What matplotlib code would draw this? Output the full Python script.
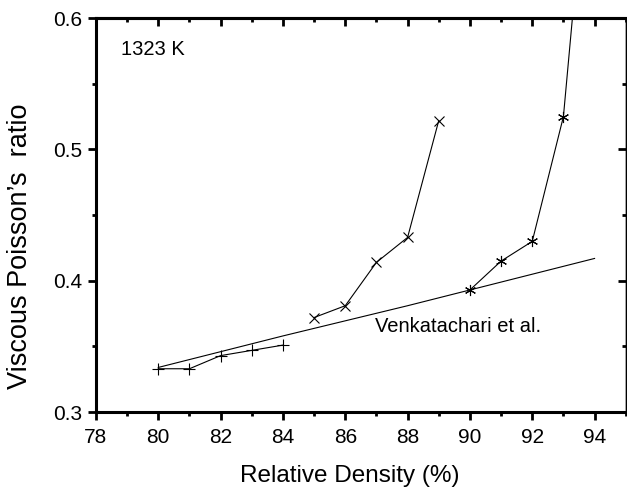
import numpy as np
import matplotlib.pyplot as plt
from matplotlib.ticker import MultipleLocator

plt.rcParams['font.family'] = ['Liberation Sans', 'DejaVu Sans']

# data
plus_x = [80, 81, 82, 83, 84]
plus_y = [0.333, 0.333, 0.343, 0.347, 0.351]

cross_x = [85, 86, 87, 88, 89]
cross_y = [0.372, 0.381, 0.414, 0.433, 0.522]

star_x = [90, 91, 92, 93, 94]
star_y = [0.393, 0.415, 0.430, 0.525, 0.785]

venk_x = [80, 84, 88, 92, 94]
venk_y = [0.334, 0.358, 0.381, 0.405, 0.417]

fig = plt.figure(figsize=(6.27, 4.90), dpi=100)
ax = fig.add_axes([0.153, 0.159, 0.845, 0.804])

lw = 0.8
ax.plot(venk_x, venk_y, color='black', lw=lw)
ax.plot(plus_x, plus_y, color='black', lw=lw, marker='+', ms=8, mew=0.8)
ax.plot(cross_x, cross_y, color='black', lw=lw, marker='x', ms=7, mew=0.8)
ax.plot(star_x, star_y, color='black', lw=lw, marker=(6, 2, 0), ms=8, mew=0.8)

ax.text(86.95, 0.3655, 'Venkatachari et al.', fontsize=14.5, va='center', ha='left')
ax.text(78.8, 0.576, '1323 K', fontsize=14.5, va='center', ha='left')

ax.set_xlim(78, 95)
ax.set_ylim(0.3, 0.6)
ax.xaxis.set_major_locator(MultipleLocator(2))
ax.xaxis.set_minor_locator(MultipleLocator(1))
ax.yaxis.set_major_locator(MultipleLocator(0.1))
ax.yaxis.set_minor_locator(MultipleLocator(0.05))

ax.tick_params(which='major', direction='out', length=5.5, width=2, labelsize=15)
ax.tick_params(axis='x', which='major', pad=6)
ax.tick_params(axis='y', which='major', pad=4)
ax.tick_params(which='minor', direction='out', length=3, width=2)

ax.set_xlabel('Relative Density (%)', fontsize=17.5)
ax.set_ylabel('Viscous Poisson\u2019s  ratio', fontsize=19.5)
ax.xaxis.set_label_coords(0.48, -0.135)
ax.yaxis.set_label_coords(-0.118, 0.42)

for side in ['left', 'bottom', 'top']:
    ax.spines[side].set_linewidth(2.2)
ax.spines['right'].set_linewidth(1)

# inward ticks on top and right
top = ax.secondary_xaxis('top')
top.xaxis.set_major_locator(MultipleLocator(2))
top.xaxis.set_minor_locator(MultipleLocator(1))
top.tick_params(which='major', direction='in', length=6, width=2, labeltop=False)
top.tick_params(which='minor', direction='in', length=3, width=2)
top.spines['top'].set_linewidth(2.2)

right = ax.secondary_yaxis('right')
right.yaxis.set_major_locator(MultipleLocator(0.1))
right.yaxis.set_minor_locator(MultipleLocator(0.05))
right.tick_params(which='major', direction='in', length=6, width=2, labelright=False)
right.tick_params(which='minor', direction='in', length=3, width=2)
right.spines['right'].set_linewidth(1)

fig.savefig('out.png', dpi=100)
